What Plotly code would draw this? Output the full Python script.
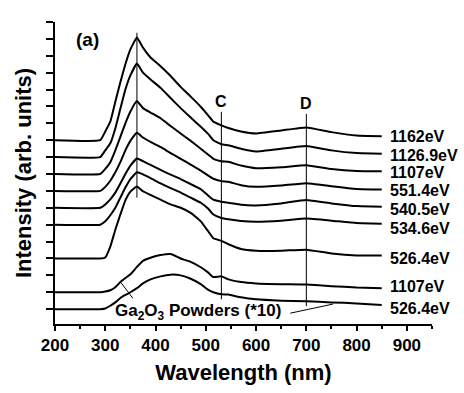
import numpy as np
import plotly.graph_objects as go

# ---------------- data ----------------
wavelength = [200, 290, 300, 310, 320, 330, 340, 350, 363, 375, 390, 410, 430, 450,
              470, 490, 505, 515, 531, 545, 570, 600, 650, 700, 750, 800, 850]

i_1162 = [0, 0, 0.26, 0.55, 1.14, 1.72, 2.25, 2.69, 3.04, 2.74, 2.45, 2.19, 1.90, 1.58,
          1.29, 0.99, 0.73, 0.55, 0.44, 0.36, 0.26, 0.20, 0.29, 0.38, 0.24, 0.14, 0.12]
i_1126_9 = [0, 0, 0.20, 0.41, 0.85, 1.43, 2.00, 2.42, 2.77, 2.50, 2.30, 2.05, 1.75, 1.45,
            1.17, 0.90, 0.68, 0.50, 0.38, 0.35, 0.25, 0.17, 0.25, 0.33, 0.20, 0.12, 0.10]
i_1107 = [0, 0, 0.15, 0.35, 0.70, 1.10, 1.50, 1.85, 2.16, 1.95, 1.82, 1.65, 1.42, 1.20,
          0.98, 0.75, 0.57, 0.45, 0.38, 0.36, 0.25, 0.17, 0.20, 0.26, 0.15, 0.09, 0.08]
i_551_4 = [0, 0, 0.12, 0.30, 0.55, 0.85, 1.20, 1.48, 1.72, 1.58, 1.45, 1.30, 1.12, 0.95,
           0.78, 0.60, 0.45, 0.36, 0.29, 0.27, 0.17, 0.12, 0.16, 0.23, 0.14, 0.06, 0.04]
i_540_5 = [0, 0, 0.10, 0.25, 0.45, 0.72, 1.00, 1.25, 1.46, 1.38, 1.27, 1.12, 0.98, 0.85,
           0.70, 0.55, 0.36, 0.24, 0.18, 0.15, 0.09, 0.07, 0.13, 0.23, 0.13, 0.05, 0.03]
i_534_6 = [0, 0, 0.10, 0.28, 0.50, 0.80, 1.10, 1.35, 1.55, 1.49, 1.38, 1.22, 1.08, 0.95,
           0.80, 0.65, 0.47, 0.30, 0.20, 0.16, 0.11, 0.09, 0.12, 0.18, 0.12, 0.05, 0.03]
i_526_4 = [0, 0, 0.03, 0.35, 0.85, 1.30, 1.72, 1.98, 2.13, 1.99, 1.88, 1.74, 1.60, 1.50,
           1.35, 1.10, 0.80, 0.60, 0.52, 0.42, 0.28, 0.23, 0.23, 0.26, 0.15, 0.09, 0.09]
i_powder_1107 = [0, 0, 0.02, 0.06, 0.15, 0.30, 0.42, 0.53, 0.75, 0.93, 1.02, 1.10, 1.13, 1.00,
                 0.90, 0.74, 0.58, 0.45, 0.47, 0.38, 0.30, 0.26, 0.24, 0.23, 0.18, 0.14, 0.12]
i_powder_526_4 = [0, 0, 0.02, 0.10, 0.20, 0.33, 0.42, 0.50, 0.62, 0.76, 0.88, 0.97, 1.02, 1.00,
                  0.90, 0.74, 0.57, 0.50, 0.44, 0.43, 0.35, 0.29, 0.25, 0.23, 0.20, 0.17, 0.12]

spectra = [i_1162, i_1126_9, i_1107, i_551_4, i_540_5, i_534_6, i_526_4,
           i_powder_1107, i_powder_526_4]
offsets = [5.0, 4.5, 4.0, 3.5, 3.0, 2.5, 1.5, 0.5, 0.0]
curve_labels = ["1162eV", "1126.9eV", "1107eV", "551.4eV", "540.5eV", "534.6eV",
                "526.4eV", "1107eV", "526.4eV"]
label_y = [5.1, 4.56, 4.04, 3.5, 2.94, 2.38, 1.49, 0.67, 0.03]
label_x = 862

# marker lines: name, wavelength, y-span
marker_names = ["A", "C", "D"]
marker_wl = [363, 531, 700]
marker_ylo = [3.3, 0.29, 0.09]
marker_yhi = [8.18, 5.84, 5.78]
marker_text_y = [8.56, 6.16, 6.10]

# pointer lines for the powder curves
pointer1_x = [331, 355]
pointer1_y = [0.79, 0.32]
pointer2_x = [668, 753]
pointer2_y = [-0.12, 0.15]

x_ticks = [200, 300, 400, 500, 600, 700, 800, 900]

FONT = "Liberation Sans, Arial, Helvetica, sans-serif"

fig = go.Figure()

for spec, off in zip(spectra, offsets):
    fig.add_trace(go.Scatter(
        x=wavelength, y=np.array(spec) + off, mode="lines",
        line=dict(color="black", width=2, shape="spline", smoothing=0.35),
        showlegend=False, hoverinfo="skip"))

for name, xv, lo, hi in zip(marker_names, marker_wl, marker_ylo, marker_yhi):
    fig.add_trace(go.Scatter(x=[xv, xv], y=[lo, hi], mode="lines",
                             line=dict(color="black", width=1),
                             showlegend=False, hoverinfo="skip"))

for px, py in [(pointer1_x, pointer1_y), (pointer2_x, pointer2_y)]:
    fig.add_trace(go.Scatter(x=px, y=py, mode="lines",
                             line=dict(color="black", width=1),
                             showlegend=False, hoverinfo="skip"))

annotations = []
for txt, yv in zip(curve_labels, label_y):
    annotations.append(dict(x=label_x, y=yv, xref="x", yref="y", text=txt,
                            showarrow=False, xanchor="left", yanchor="middle",
                            font=dict(family=FONT, size=16, color="black", weight="bold")))
for name, xv, ty in zip(marker_names, marker_wl, marker_text_y):
    annotations.append(dict(x=xv, y=ty, xref="x", yref="y", text=name,
                            showarrow=False, xanchor="center", yanchor="middle",
                            font=dict(family=FONT, size=16, color="black", weight="bold")))
annotations.append(dict(x=264, y=7.97, xref="x", yref="y", text="(a)", showarrow=False,
                        xanchor="center", yanchor="middle",
                        font=dict(family=FONT, size=19, color="black", weight="bold")))
annotations.append(dict(x=484, y=-0.08, xref="x", yref="y",
                        text="Ga<sub>2</sub>O<sub>3</sub> Powders (*10)", showarrow=False,
                        xanchor="center", yanchor="middle",
                        font=dict(family=FONT, size=17, color="black", weight="bold")))

fig.update_layout(
    width=464, height=393,
    margin=dict(l=55, r=32, t=22, b=65),
    paper_bgcolor="white", plot_bgcolor="white",
    annotations=annotations,
    xaxis=dict(range=[200, 950], tickmode="array", tickvals=x_ticks,
               ticks="outside", ticklen=5, tickwidth=1.5, tickcolor="black",
               minor=dict(dtick=50, tick0=200, ticks="outside", ticklen=3, tickwidth=1.5, tickcolor="black"),
               showline=True, linecolor="black", linewidth=2, showgrid=False, zeroline=False,
               tickfont=dict(family=FONT, size=17, color="black", weight="bold"),
               title=dict(text="Wavelength (nm)", standoff=10,
                          font=dict(family=FONT, size=22, color="black", weight="bold"))),
    yaxis=dict(range=[-0.44, 8.5], tick0=0, dtick=0.5, showticklabels=False,
               ticks="outside", ticklen=7, tickwidth=1.5, tickcolor="black",
               showline=True, linecolor="black", linewidth=2, showgrid=False, zeroline=False,
               title=dict(text="Intensity (arb. units)", standoff=8,
                          font=dict(family=FONT, size=22, color="black", weight="bold"))),
)

fig.write_html("out.html")
